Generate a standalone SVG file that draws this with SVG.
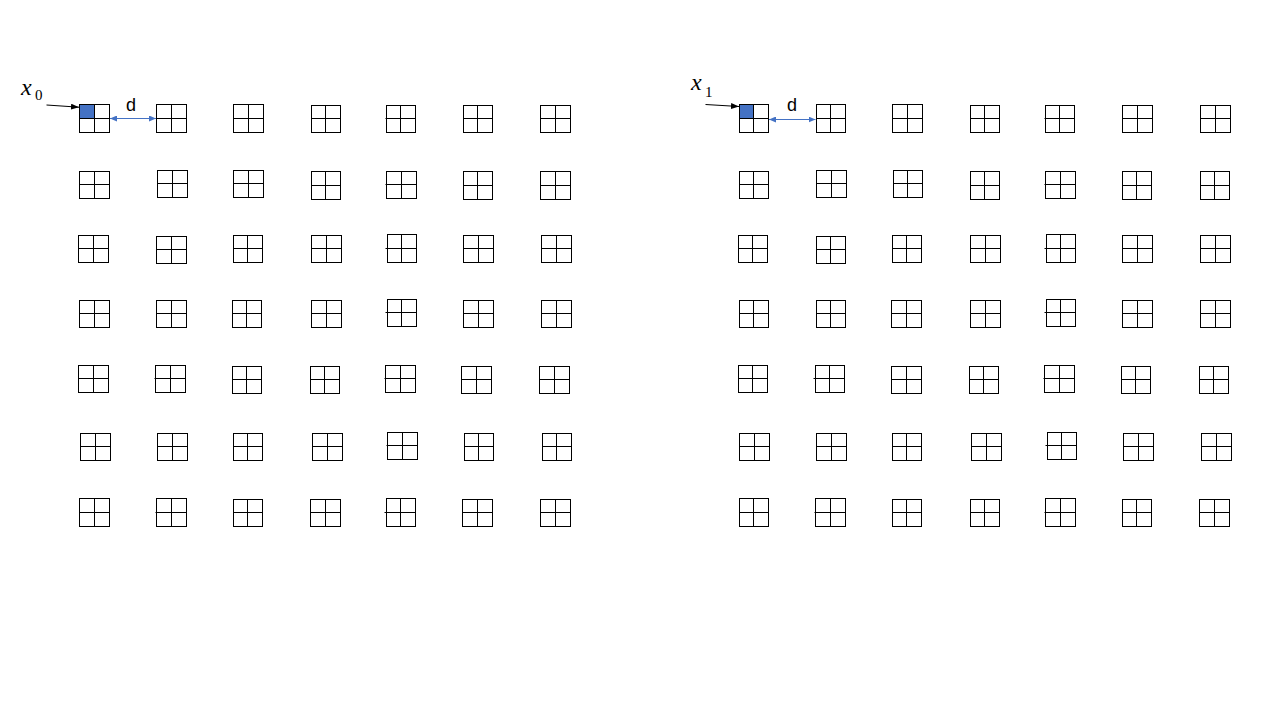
<svg xmlns="http://www.w3.org/2000/svg" width="1280" height="720" viewBox="0 0 1280 720">
<style>
.n rect{fill:none;stroke:#000;stroke-width:1}
.n path{fill:none;stroke:#000;stroke-width:1}
.n rect.hl{fill:#4472C4;stroke:none}
.lbl{font-family:"Liberation Serif",serif;font-style:italic;font-size:24px;fill:#000}
.sub{font-family:"Liberation Serif",serif;font-size:15px;fill:#000}
.d{font-family:"Liberation Sans",Arial,sans-serif;font-size:18px;fill:#000}
.ka{stroke:#000;stroke-width:1;fill:none}
.ba{stroke:#4472C4;stroke-width:1;fill:none}
</style>
<defs>
<marker id="mk" viewBox="0 0 8 6" refX="8" refY="3" markerWidth="8" markerHeight="6" markerUnits="userSpaceOnUse" orient="auto"><path d="M0,0L8,3L0,6z" fill="#000"/></marker>
<marker id="mb" viewBox="0 0 7 6" refX="7" refY="3" markerWidth="7" markerHeight="6" markerUnits="userSpaceOnUse" orient="auto-start-reverse"><path d="M0,0L7,3L0,6z" fill="#4472C4"/></marker>
</defs>
<rect width="1280" height="720" fill="#fff"/>

<g id="labels">
<text class="lbl" x="21" y="95">x</text><text class="sub" x="35" y="99.5">0</text>
<text class="d" x="126" y="111">d</text>
<text class="lbl" x="691" y="90">x</text><text class="sub" x="705" y="96.5">1</text>
<text class="d" x="787" y="111">d</text>
</g>

<g id="left-grid" class="n">
<rect class="hl" x="79.5" y="104.5" width="15" height="14"/>
<g id="L11"><rect x="79.5" y="104.5" width="30" height="28"/><path d="M94.5 104.5V132.5M79.5 118.5H109.5"/></g>
<g id="L12"><rect x="156.5" y="104.5" width="30" height="28"/><path d="M171.5 104.5V132.5M156.5 118.5H186.5"/></g>
<g id="L13"><rect x="233.5" y="104.5" width="30" height="28"/><path d="M248.5 104.5V132.5M233.5 118.5H263.5"/></g>
<g id="L14"><rect x="311.5" y="105.5" width="29" height="27"/><path d="M325.5 105.5V132.5M311.5 118.5H340.5"/></g>
<g id="L15"><rect x="386.5" y="105.5" width="29" height="27"/><path d="M400.5 105.5V132.5M385.5 118.5H415.5"/></g>
<g id="L16"><rect x="463.5" y="105.5" width="29" height="27"/><path d="M477.5 105.5V132.5M463.5 118.5H492.5"/></g>
<g id="L17"><rect x="540.5" y="105.5" width="30" height="27"/><path d="M555.5 105.5V132.5M540.5 118.5H570.5"/></g>

<g id="L21"><rect x="79.5" y="171.5" width="30" height="27"/><path d="M94.5 171.5V198.5M79.5 184.5H109.5"/></g>
<g id="L22"><rect x="157.5" y="170.5" width="30" height="27"/><path d="M172.5 170.5V197.5M157.5 183.5H187.5"/></g>
<g id="L23"><rect x="233.5" y="170.5" width="30" height="27"/><path d="M248.5 170.5V197.5M233.5 183.5H263.5"/></g>
<g id="L24"><rect x="311.5" y="171.5" width="29" height="28"/><path d="M325.5 171.5V199.5M311.5 185.5H340.5"/></g>
<g id="L25"><rect x="386.5" y="171.5" width="30" height="27"/><path d="M401.5 171.5V198.5M385.5 184.5H416.5"/></g>
<g id="L26"><rect x="463.5" y="171.5" width="29" height="28"/><path d="M477.5 171.5V199.5M463.5 185.5H492.5"/></g>
<g id="L27"><rect x="540.5" y="171.5" width="30" height="28"/><path d="M555.5 171.5V199.5M540.5 185.5H570.5"/></g>

<g id="L31"><rect x="78.5" y="235.5" width="30" height="27"/><path d="M93.5 235.5V262.5M78.5 248.5H108.5"/></g>
<g id="L32"><rect x="156.5" y="236.5" width="30" height="27"/><path d="M171.5 236.5V263.5M156.5 249.5H186.5"/></g>
<g id="L33"><rect x="233.5" y="235.5" width="29" height="27"/><path d="M247.5 235.5V262.5M233.5 248.5H262.5"/></g>
<g id="L34"><rect x="311.5" y="235.5" width="30" height="27"/><path d="M326.5 235.5V262.5M311.5 248.5H341.5"/></g>
<g id="L35"><rect x="387.5" y="234.5" width="29" height="28"/><path d="M401.5 234.5V262.5M385.5 248.5H416.5"/></g>
<g id="L36"><rect x="463.5" y="235.5" width="30" height="27"/><path d="M478.5 235.5V262.5M463.5 248.5H493.5"/></g>
<g id="L37"><rect x="541.5" y="235.5" width="30" height="27"/><path d="M556.5 235.5V262.5M541.5 248.5H571.5"/></g>

<g id="L41"><rect x="79.5" y="300.5" width="30" height="27"/><path d="M94.5 300.5V327.5M79.5 313.5H109.5"/></g>
<g id="L42"><rect x="156.5" y="300.5" width="30" height="27"/><path d="M171.5 300.5V327.5M156.5 313.5H186.5"/></g>
<g id="L43"><rect x="232.5" y="300.5" width="29" height="27"/><path d="M246.5 300.5V327.5M232.5 313.5H261.5"/></g>
<g id="L44"><rect x="311.5" y="300.5" width="30" height="27"/><path d="M326.5 300.5V327.5M311.5 313.5H341.5"/></g>
<g id="L45"><rect x="387.5" y="299.5" width="29" height="27"/><path d="M401.5 299.5V326.5M385.5 312.5H416.5"/></g>
<g id="L46"><rect x="463.5" y="300.5" width="30" height="27"/><path d="M478.5 300.5V327.5M463.5 313.5H493.5"/></g>
<g id="L47"><rect x="541.5" y="300.5" width="30" height="27"/><path d="M556.5 300.5V327.5M541.5 313.5H571.5"/></g>

<g id="L51"><rect x="78.5" y="365.5" width="30" height="27"/><path d="M93.5 365.5V392.5M78.5 378.5H108.5"/></g>
<g id="L52"><rect x="155.5" y="365.5" width="30" height="27"/><path d="M170.5 365.5V392.5M154.5 378.5H185.5"/></g>
<g id="L53"><rect x="232.5" y="366.5" width="29" height="27"/><path d="M246.5 366.5V393.5M232.5 379.5H261.5"/></g>
<g id="L54"><rect x="310.5" y="366.5" width="29" height="27"/><path d="M324.5 366.5V393.5M310.5 379.5H339.5"/></g>
<g id="L55"><rect x="385.5" y="365.5" width="30" height="27"/><path d="M400.5 365.5V392.5M384.5 378.5H415.5"/></g>
<g id="L56"><rect x="461.5" y="366.5" width="30" height="27"/><path d="M476.5 366.5V393.5M461.5 379.5H491.5"/></g>
<g id="L57"><rect x="539.5" y="366.5" width="30" height="27"/><path d="M554.5 366.5V393.5M539.5 379.5H569.5"/></g>

<g id="L61"><rect x="80.5" y="433.5" width="30" height="27"/><path d="M95.5 433.5V460.5M80.5 446.5H110.5"/></g>
<g id="L62"><rect x="157.5" y="433.5" width="30" height="27"/><path d="M172.5 433.5V460.5M157.5 446.5H187.5"/></g>
<g id="L63"><rect x="233.5" y="433.5" width="29" height="27"/><path d="M247.5 433.5V460.5M233.5 446.5H262.5"/></g>
<g id="L64"><rect x="312.5" y="433.5" width="30" height="27"/><path d="M327.5 433.5V460.5M312.5 446.5H342.5"/></g>
<g id="L65"><rect x="387.5" y="432.5" width="30" height="27"/><path d="M402.5 432.5V459.5M386.5 445.5H417.5"/></g>
<g id="L66"><rect x="464.5" y="433.5" width="29" height="27"/><path d="M478.5 433.5V460.5M464.5 446.5H493.5"/></g>
<g id="L67"><rect x="542.5" y="433.5" width="29" height="27"/><path d="M556.5 433.5V460.5M542.5 446.5H571.5"/></g>

<g id="L71"><rect x="79.5" y="498.5" width="30" height="28"/><path d="M94.5 498.5V526.5M79.5 512.5H109.5"/></g>
<g id="L72"><rect x="156.5" y="498.5" width="30" height="28"/><path d="M171.5 498.5V526.5M155.5 512.5H186.5"/></g>
<g id="L73"><rect x="233.5" y="499.5" width="29" height="27"/><path d="M247.5 499.5V526.5M233.5 512.5H262.5"/></g>
<g id="L74"><rect x="310.5" y="499.5" width="30" height="27"/><path d="M325.5 499.5V526.5M310.5 512.5H340.5"/></g>
<g id="L75"><rect x="386.5" y="498.5" width="29" height="28"/><path d="M400.5 498.5V526.5M384.5 512.5H415.5"/></g>
<g id="L76"><rect x="462.5" y="499.5" width="30" height="27"/><path d="M477.5 499.5V526.5M462.5 512.5H492.5"/></g>
<g id="L77"><rect x="540.5" y="499.5" width="30" height="27"/><path d="M555.5 499.5V526.5M540.5 512.5H570.5"/></g>
</g>

<g id="right-grid" class="n">
<rect class="hl" x="739.5" y="104.5" width="14" height="14"/>
<g id="R11"><rect x="739.5" y="104.5" width="29" height="28"/><path d="M753.5 104.5V132.5M739.5 118.5H768.5"/></g>
<g id="R12"><rect x="816.5" y="104.5" width="29" height="28"/><path d="M830.5 104.5V132.5M816.5 118.5H845.5"/></g>
<g id="R13"><rect x="892.5" y="104.5" width="30" height="28"/><path d="M907.5 104.5V132.5M892.5 118.5H922.5"/></g>
<g id="R14"><rect x="970.5" y="105.5" width="29" height="27"/><path d="M984.5 105.5V132.5M970.5 118.5H999.5"/></g>
<g id="R15"><rect x="1045.5" y="105.5" width="29" height="27"/><path d="M1059.5 105.5V132.5M1044.5 118.5H1074.5"/></g>
<g id="R16"><rect x="1122.5" y="105.5" width="30" height="27"/><path d="M1137.5 105.5V132.5M1122.5 118.5H1152.5"/></g>
<g id="R17"><rect x="1200.5" y="105.5" width="30" height="27"/><path d="M1215.5 105.5V132.5M1200.5 118.5H1230.5"/></g>

<g id="R21"><rect x="739.5" y="171.5" width="29" height="27"/><path d="M753.5 171.5V198.5M739.5 184.5H768.5"/></g>
<g id="R22"><rect x="816.5" y="170.5" width="30" height="27"/><path d="M831.5 170.5V197.5M816.5 183.5H846.5"/></g>
<g id="R23"><rect x="893.5" y="170.5" width="29" height="27"/><path d="M907.5 170.5V197.5M893.5 183.5H922.5"/></g>
<g id="R24"><rect x="970.5" y="171.5" width="29" height="28"/><path d="M984.5 171.5V199.5M970.5 185.5H999.5"/></g>
<g id="R25"><rect x="1045.5" y="171.5" width="30" height="27"/><path d="M1060.5 171.5V198.5M1044.5 184.5H1075.5"/></g>
<g id="R26"><rect x="1122.5" y="171.5" width="29" height="28"/><path d="M1136.5 171.5V199.5M1122.5 185.5H1151.5"/></g>
<g id="R27"><rect x="1200.5" y="171.5" width="29" height="28"/><path d="M1214.5 171.5V199.5M1200.5 185.5H1229.5"/></g>

<g id="R31"><rect x="738.5" y="235.5" width="29" height="27"/><path d="M752.5 235.5V262.5M738.5 248.5H767.5"/></g>
<g id="R32"><rect x="816.5" y="236.5" width="29" height="27"/><path d="M830.5 236.5V263.5M816.5 249.5H845.5"/></g>
<g id="R33"><rect x="892.5" y="235.5" width="29" height="27"/><path d="M906.5 235.5V262.5M892.5 248.5H921.5"/></g>
<g id="R34"><rect x="970.5" y="235.5" width="30" height="27"/><path d="M985.5 235.5V262.5M970.5 248.5H1000.5"/></g>
<g id="R35"><rect x="1046.5" y="234.5" width="29" height="28"/><path d="M1060.5 234.5V262.5M1044.5 248.5H1075.5"/></g>
<g id="R36"><rect x="1122.5" y="235.5" width="30" height="27"/><path d="M1137.5 235.5V262.5M1122.5 248.5H1152.5"/></g>
<g id="R37"><rect x="1200.5" y="235.5" width="30" height="27"/><path d="M1215.5 235.5V262.5M1200.5 248.5H1230.5"/></g>

<g id="R41"><rect x="739.5" y="300.5" width="29" height="27"/><path d="M753.5 300.5V327.5M739.5 313.5H768.5"/></g>
<g id="R42"><rect x="816.5" y="300.5" width="29" height="27"/><path d="M830.5 300.5V327.5M816.5 313.5H845.5"/></g>
<g id="R43"><rect x="891.5" y="300.5" width="30" height="27"/><path d="M906.5 300.5V327.5M891.5 313.5H921.5"/></g>
<g id="R44"><rect x="970.5" y="300.5" width="30" height="27"/><path d="M985.5 300.5V327.5M970.5 313.5H1000.5"/></g>
<g id="R45"><rect x="1046.5" y="299.5" width="29" height="27"/><path d="M1060.5 299.5V326.5M1044.5 312.5H1075.5"/></g>
<g id="R46"><rect x="1122.5" y="300.5" width="30" height="27"/><path d="M1137.5 300.5V327.5M1122.5 313.5H1152.5"/></g>
<g id="R47"><rect x="1200.5" y="300.5" width="30" height="27"/><path d="M1215.5 300.5V327.5M1200.5 313.5H1230.5"/></g>

<g id="R51"><rect x="738.5" y="365.5" width="29" height="27"/><path d="M752.5 365.5V392.5M738.5 378.5H767.5"/></g>
<g id="R52"><rect x="815.5" y="365.5" width="29" height="27"/><path d="M829.5 365.5V392.5M813.5 378.5H844.5"/></g>
<g id="R53"><rect x="891.5" y="366.5" width="30" height="27"/><path d="M906.5 366.5V393.5M891.5 379.5H921.5"/></g>
<g id="R54"><rect x="969.5" y="366.5" width="29" height="27"/><path d="M983.5 366.5V393.5M969.5 379.5H998.5"/></g>
<g id="R55"><rect x="1044.5" y="365.5" width="30" height="27"/><path d="M1059.5 365.5V392.5M1043.5 378.5H1074.5"/></g>
<g id="R56"><rect x="1121.5" y="366.5" width="29" height="27"/><path d="M1135.5 366.5V393.5M1121.5 379.5H1150.5"/></g>
<g id="R57"><rect x="1199.5" y="366.5" width="29" height="27"/><path d="M1213.5 366.5V393.5M1199.5 379.5H1228.5"/></g>

<g id="R61"><rect x="739.5" y="433.5" width="30" height="27"/><path d="M754.5 433.5V460.5M739.5 446.5H769.5"/></g>
<g id="R62"><rect x="816.5" y="433.5" width="30" height="27"/><path d="M831.5 433.5V460.5M816.5 446.5H846.5"/></g>
<g id="R63"><rect x="892.5" y="433.5" width="29" height="27"/><path d="M906.5 433.5V460.5M892.5 446.5H921.5"/></g>
<g id="R64"><rect x="971.5" y="433.5" width="30" height="27"/><path d="M986.5 433.5V460.5M971.5 446.5H1001.5"/></g>
<g id="R65"><rect x="1047.5" y="432.5" width="29" height="27"/><path d="M1061.5 432.5V459.5M1045.5 445.5H1076.5"/></g>
<g id="R66"><rect x="1123.5" y="433.5" width="30" height="27"/><path d="M1138.5 433.5V460.5M1123.5 446.5H1153.5"/></g>
<g id="R67"><rect x="1201.5" y="433.5" width="30" height="27"/><path d="M1216.5 433.5V460.5M1201.5 446.5H1231.5"/></g>

<g id="R71"><rect x="739.5" y="498.5" width="29" height="28"/><path d="M753.5 498.5V526.5M739.5 512.5H768.5"/></g>
<g id="R72"><rect x="815.5" y="498.5" width="30" height="28"/><path d="M830.5 498.5V526.5M814.5 512.5H845.5"/></g>
<g id="R73"><rect x="892.5" y="499.5" width="29" height="27"/><path d="M906.5 499.5V526.5M892.5 512.5H921.5"/></g>
<g id="R74"><rect x="970.5" y="499.5" width="29" height="27"/><path d="M984.5 499.5V526.5M970.5 512.5H999.5"/></g>
<g id="R75"><rect x="1045.5" y="498.5" width="30" height="28"/><path d="M1060.5 498.5V526.5M1044.5 512.5H1075.5"/></g>
<g id="R76"><rect x="1122.5" y="499.5" width="29" height="27"/><path d="M1136.5 499.5V526.5M1122.5 512.5H1151.5"/></g>
<g id="R77"><rect x="1199.5" y="499.5" width="30" height="27"/><path d="M1214.5 499.5V526.5M1199.5 512.5H1229.5"/></g>
</g>

<g id="connectors">
<path class="ka" d="M46.5 105L79 107.2" marker-end="url(#mk)"/>
<path class="ba" d="M110 118.5H156" marker-start="url(#mb)" marker-end="url(#mb)"/>
<path class="ka" d="M705.5 104.5L739 106.5" marker-end="url(#mk)"/>
<path class="ba" d="M769 119.5H815.5" marker-start="url(#mb)" marker-end="url(#mb)"/>
</g>
</svg>
